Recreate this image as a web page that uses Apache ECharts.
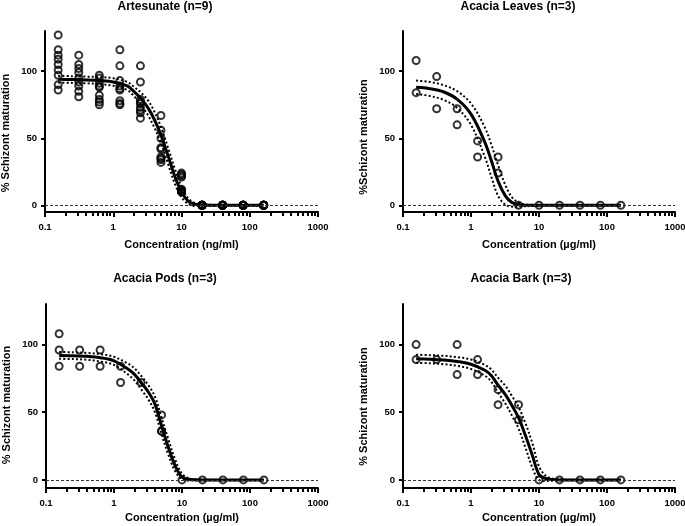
<!DOCTYPE html>
<html><head><meta charset="utf-8">
<script src="https://cdn.jsdelivr.net/npm/echarts@6/dist/echarts.min.js"></script>
<style>html,body{margin:0;padding:0;background:#fff}#c{width:685px;height:526px}</style>
</head><body><div id="c"></div>
<script>
// ---------- data ----------
const concentrations = [0.156, 0.3125, 0.625, 1.25, 2.5, 5, 10, 20, 40, 80, 160];
const yTickValues = [0, 50, 100];
const minorTickValues = [0.2,0.3,0.4,0.5,0.6,0.7,0.8,0.9,2,3,4,5,6,7,8,9,20,30,40,50,60,70,80,90,200,300,400,500,600,700,800,900];

const panelTitles = ['Artesunate (n=9)', 'Acacia Leaves (n=3)', 'Acacia Pods (n=3)', 'Acacia Bark (n=3)'];
const xAxisNames = ['Concentration (ng/ml)', 'Concentration (\u00b5g/ml)', 'Concentration (\u00b5g/ml)', 'Concentration (\u00b5g/ml)'];
const yAxisNames = ['% Schizont maturation', '%Schizont maturation', '% Schizont maturation', '% Schizont maturation'];

const artesunateReps = [
  [127, 116, 112, 109, 105, 101, 97, 90, 86],
  [112, 105, 102, 99, 95, 92, 89, 85, 81],
  [97, 95, 91, 89, 88, 82, 79, 77, 75],
  [116, 104, 93, 89, 87, 86, 78, 76, 75],
  [104, 92, 79, 77, 76, 73, 71, 69, 65],
  [67, 56, 50, 43, 42, 36, 35, 34, 32],
  [24, 23, 22, 21, 12, 11, 11, 10, 10],
  [0, 0, 0, 0, 0, 0, 0, 0, 0],
  [0, 0, 0, 0, 0, 0, 0, 0, 0],
  [0, 0, 0, 0, 0, 0, 0, 0, 0],
  [0, 0, 0, 0, 0, 0, 0, 0, 0]
];
const leavesReps = [[108, 84], [96, 72], [72, 60], [48, 36], [36, 24], [0], [0], [0], [0], [0], [0]];
const podsReps = [[108, 96, 84], [96, 84], [96, 84], [84, 72], [72], [48, 36, 36], [0], [0], [0], [0], [0]];
const barkReps = [[100, 88.9], [88.9], [100, 77.8], [88.9, 77.8], [66.7, 55.6], [55.6, 44.4], [0], [0], [0], [0], [0]];

// fitted curve and 95% CI at these concentrations
const fitX = [0.156, 0.25, 0.4, 0.63, 1, 1.6, 2, 2.5, 3.2, 4, 5, 6.3, 8, 10, 12.6, 16, 20, 40, 80, 160];

const artesunateFit   = [94, 93.8, 93.5, 93, 92, 89, 85, 80, 73, 64, 52.5, 37.5, 21.5, 10, 3, 0.8, 0.2, 0, 0, 0];
const artesunateUpper = [96.5, 96.3, 96, 95.6, 94.8, 92, 88.5, 84.5, 78.5, 70, 58.5, 43.5, 27, 14, 5, 1.5, 0.6, 0.2, 0.2, 0.2];
const artesunateLower = [91.5, 91.3, 91, 90.4, 89.2, 86, 81.5, 75.5, 67.5, 58, 46.5, 31.5, 16, 6, 1, -0.5, -0.5, -0.3, -0.3, -0.3];

const leavesFit   = [88, 87, 84.5, 79, 68, 47, 33, 18, 7, 2, 0.4, 0.1, 0, 0, 0, 0, 0, 0, 0, 0];
const leavesUpper = [93, 92, 89.5, 85, 76, 58, 45, 30, 15, 6, 2, 0.6, 0.2, 0.1, 0, 0, 0, 0, 0, 0];
const leavesLower = [83, 81.5, 78.5, 72.5, 60, 36, 21, 7, 0.5, -1, -1, -0.7, -0.5, -0.3, -0.2, -0.2, -0.2, -0.2, -0.2, -0.2];

const podsFit   = [92, 91.8, 91.3, 90.3, 88, 82, 78, 72, 65, 56, 40, 24, 10, 2, 0.4, 0.1, 0, 0, 0, 0];
const podsUpper = [94.5, 94.3, 93.8, 93, 91, 86, 82.5, 77, 70, 61.5, 46, 30, 14.5, 4.5, 1.2, 0.3, 0.1, 0, 0, 0];
const podsLower = [89.5, 89.3, 88.8, 87.5, 85, 78, 73.5, 67, 59.5, 50, 34, 18.5, 6, 0.5, -0.5, -0.5, -0.3, -0.3, -0.3, -0.3];

const barkFit   = [89.5, 89.2, 88.6, 87.5, 85.5, 81, 77, 70, 63, 55, 46, 33, 18, 4, 1, 0.2, 0, 0, 0, 0];
const barkUpper = [92.5, 92.2, 91.7, 90.7, 89, 85, 81.5, 75.5, 69.5, 62, 54, 42, 27, 10, 3, 0.8, 0.3, 0.1, 0.1, 0.1];
const barkLower = [86.5, 86.2, 85.5, 84.3, 82, 77, 72.5, 64.5, 56.5, 47.5, 38, 24, 9, 0, -0.8, -0.5, -0.3, -0.3, -0.3, -0.3];

// ---------- chart ----------
const FONT = '"Liberation Sans", Arial, Helvetica, sans-serif';
const panels = [
  {reps: artesunateReps, fit: artesunateFit, up: artesunateUpper, lo: artesunateLower,
   grid: {left: 45, top: 31, width: 273, height: 181}, yMin: -5, titleX: 165, titleY: 1, xGap: 27, yPad: 23},
  {reps: leavesReps, fit: leavesFit, up: leavesUpper, lo: leavesLower,
   grid: {left: 403, top: 31, width: 272, height: 181}, yMin: -5, titleX: 518, titleY: 1, xGap: 27, yPad: 31},
  {reps: podsReps, fit: podsFit, up: podsUpper, lo: podsLower,
   grid: {left: 46, top: 304, width: 272, height: 184}, yMin: -6, titleX: 165, titleY: 273, xGap: 24, yPad: 18},
  {reps: barkReps, fit: barkFit, up: barkUpper, lo: barkLower,
   grid: {left: 403, top: 304, width: 272, height: 184}, yMin: -6, titleX: 521, titleY: 273, xGap: 24, yPad: 21}
];

const option = {
  backgroundColor: '#fff',
  animation: false,
  title: [], grid: [], xAxis: [], yAxis: [], series: []
};

const zip = (xs, ys) => xs.map((x, i) => [x, ys[i]]);

panels.forEach((p, i) => {
  option.title.push({
    text: panelTitles[i], left: p.titleX, top: p.titleY, textAlign: 'center', padding: 0,
    textStyle: {fontFamily: FONT, fontSize: 12, fontWeight: 'bold', color: '#000'}
  });
  option.grid.push(Object.assign({containLabel: false, outerBoundsMode: 'none'}, p.grid));
  // main log axis (decades)
  option.xAxis.push({
    type: 'log', min: 0.1, max: 1000, gridIndex: i, position: 'bottom',
    name: xAxisNames[i], nameLocation: 'middle', nameGap: p.xGap,
    nameTextStyle: {fontFamily: FONT, fontSize: 11, fontWeight: 'bold', color: '#000'},
    axisLine: {show: true, onZero: false, lineStyle: {color: '#000', width: 2}},
    axisTick: {show: true, length: 5, lineStyle: {color: '#000', width: 2}},
    axisLabel: {margin: 10, fontFamily: FONT, fontSize: 9.5, fontWeight: 'bold', color: '#000',
      formatter: v => String(+Number(v).toPrecision(6))},
    splitLine: {show: false}
  });
  // minor ticks at 2..9 of each decade (log10 positions)
  option.xAxis.push({
    type: 'value', min: -1, max: 3, gridIndex: i, position: 'bottom',
    axisLine: {show: true, onZero: false, lineStyle: {color: 'rgba(0,0,0,0)'}},
    axisTick: {show: true, length: 4, customValues: minorTickValues.map(v => Math.log10(v)),
      lineStyle: {color: '#000', width: 2}},
    axisLabel: {show: false}, splitLine: {show: false}
  });
  option.yAxis.push({
    type: 'value', min: p.yMin, max: 130, gridIndex: i,
    name: yAxisNames[i], nameLocation: 'middle', nameGap: 34,
    nameTextStyle: {fontFamily: FONT, fontSize: 11, fontWeight: 'bold', color: '#000', padding: [0, p.yPad, 0, 0]},
    axisLine: {show: true, onZero: false, lineStyle: {color: '#000', width: 2}},
    axisTick: {show: true, length: 4, customValues: yTickValues, lineStyle: {color: '#000', width: 2}},
    axisLabel: {margin: 8, customValues: yTickValues, fontFamily: FONT, fontSize: 9.5, fontWeight: 'bold', color: '#000'},
    splitLine: {show: false}
  });
  const xi = i * 2;
  const dotted = {color: '#000', width: 2, type: [2, 2.2], cap: 'butt'};
  option.series.push({type: 'line', xAxisIndex: xi, yAxisIndex: i, data: zip(fitX, p.up), smooth: 0.35,
    showSymbol: false, lineStyle: dotted, silent: true, z: 2});
  option.series.push({type: 'line', xAxisIndex: xi, yAxisIndex: i, data: zip(fitX, p.lo), smooth: 0.35,
    showSymbol: false, lineStyle: dotted, silent: true, z: 2});
  option.series.push({type: 'line', xAxisIndex: xi, yAxisIndex: i, data: zip(fitX, p.fit), smooth: 0.35,
    showSymbol: false, lineStyle: {color: '#000', width: 3}, silent: true, z: 3,
    markLine: {silent: true, symbol: 'none', label: {show: false},
      lineStyle: {color: '#333', width: 1, type: [3, 2]}, data: [{yAxis: 0}]}});
  const pts = [];
  concentrations.forEach((c, j) => p.reps[j].forEach(v => pts.push([c, v])));
  option.series.push({type: 'scatter', xAxisIndex: xi, yAxisIndex: i, data: pts, symbol: 'circle', symbolSize: 7,
    itemStyle: {color: 'rgba(0,0,0,0)', borderColor: '#000', borderWidth: 2}, z: 4});
});

const chart = echarts.init(document.getElementById('c'));
chart.setOption(option);
</script>
</body></html>
